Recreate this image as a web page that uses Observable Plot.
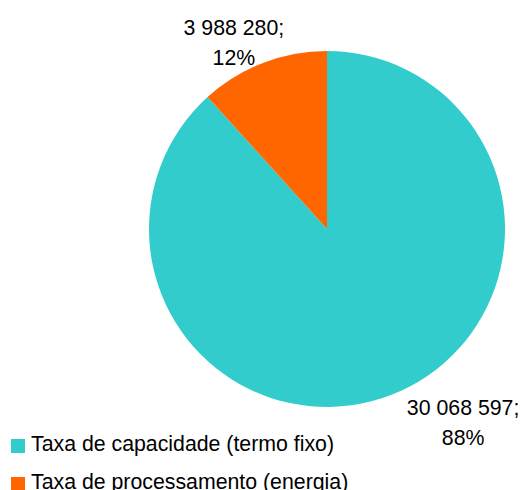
<!DOCTYPE html>
<html><head><meta charset="utf-8">
<script src="https://cdn.jsdelivr.net/npm/d3@7"></script>
<script src="https://cdn.jsdelivr.net/npm/@observablehq/plot@0.6"></script>
<style>
body{margin:0;background:#fff;font-family:"Liberation Sans",Arial,sans-serif;}
#wrap{position:relative;width:523px;height:490px;overflow:hidden;}
#wrap svg{position:absolute;left:0;top:0;}
#legend{position:absolute;left:11px;top:424.6px;font-size:21.3px;color:#000;font-family:"Liberation Sans",Arial,sans-serif;}
.row{display:flex;align-items:flex-start;height:38px;line-height:38px;white-space:nowrap;}
.sw{width:14px;height:14px;margin-top:14.5px;margin-right:6px;flex:none;}
</style></head><body><div id="wrap"></div>
<script>
const categories = ["Taxa de capacidade (termo fixo)", "Taxa de processamento (energia)"];
const values = [30068597, 3988280];
const colors = ["#33CCCC", "#FF6600"];

const fmt = d3.formatLocale({thousands: " ", grouping: [3], decimal: ",", currency: ["", ""]}).format(",d");
const total = d3.sum(values);
const data = categories.map((c, i) => ({category: c, value: values[i]}));
const arcs = d3.pie().sort(null).value(d => d.value)(data);
const mid = d => (d.startAngle + d.endAngle) / 2;
const label = d => fmt(d.data.value) + ";\n" + Math.round(100 * d.data.value / total) + "%";
const LR = 1.15;

const pieMark = Plot.dot(arcs, {
  x: () => 0, y: () => 0, fill: d => d.data.category,
  render(index, scales, vals) {
    const cx = scales.x(0), cy = scales.y(0), r = scales.x(1) - scales.x(0);
    const arc = d3.arc().innerRadius(0).outerRadius(r);
    const g = d3.create("svg:g");
    for (const i of index) {
      g.append("path").attr("transform", `translate(${cx},${cy})`)
        .attr("d", arc(arcs[i])).attr("fill", vals.fill[i]);
    }
    return g.node();
  }
});

const textOpts = {
  x: d => LR * Math.sin(mid(d)), y: d => LR * Math.cos(mid(d)),
  text: label, fontSize: 21.3, lineHeight: 1.38, fill: "#000",
  fontFamily: "Liberation Sans, Arial, sans-serif", textAnchor: "middle"
};

const chart = Plot.plot({
  width: 523, height: 490, margin: 0,
  style: {background: "transparent", fontFamily: "Liberation Sans, Arial, sans-serif"},
  x: {domain: [-1, 1], range: [149, 505], axis: null},
  y: {domain: [-1, 1], range: [407, 51], axis: null},
  color: {domain: categories, range: colors},
  marks: [
    pieMark,
    Plot.text(arcs.filter(d => d.index === 1), {...textOpts, dx: -20, dy: 2}),
    Plot.text(arcs.filter(d => d.index === 0), {...textOpts, dx: 62, dy: 0})
  ]
});
const wrap = document.getElementById("wrap");
wrap.appendChild(chart);

const legend = document.createElement("div");
legend.id = "legend";
categories.forEach((c, i) => {
  const row = document.createElement("div");
  row.className = "row";
  const sw = document.createElement("span");
  sw.className = "sw";
  sw.style.background = colors[i];
  const t = document.createElement("span");
  t.textContent = c;
  row.appendChild(sw); row.appendChild(t);
  legend.appendChild(row);
});
wrap.appendChild(legend);
</script></body></html>
